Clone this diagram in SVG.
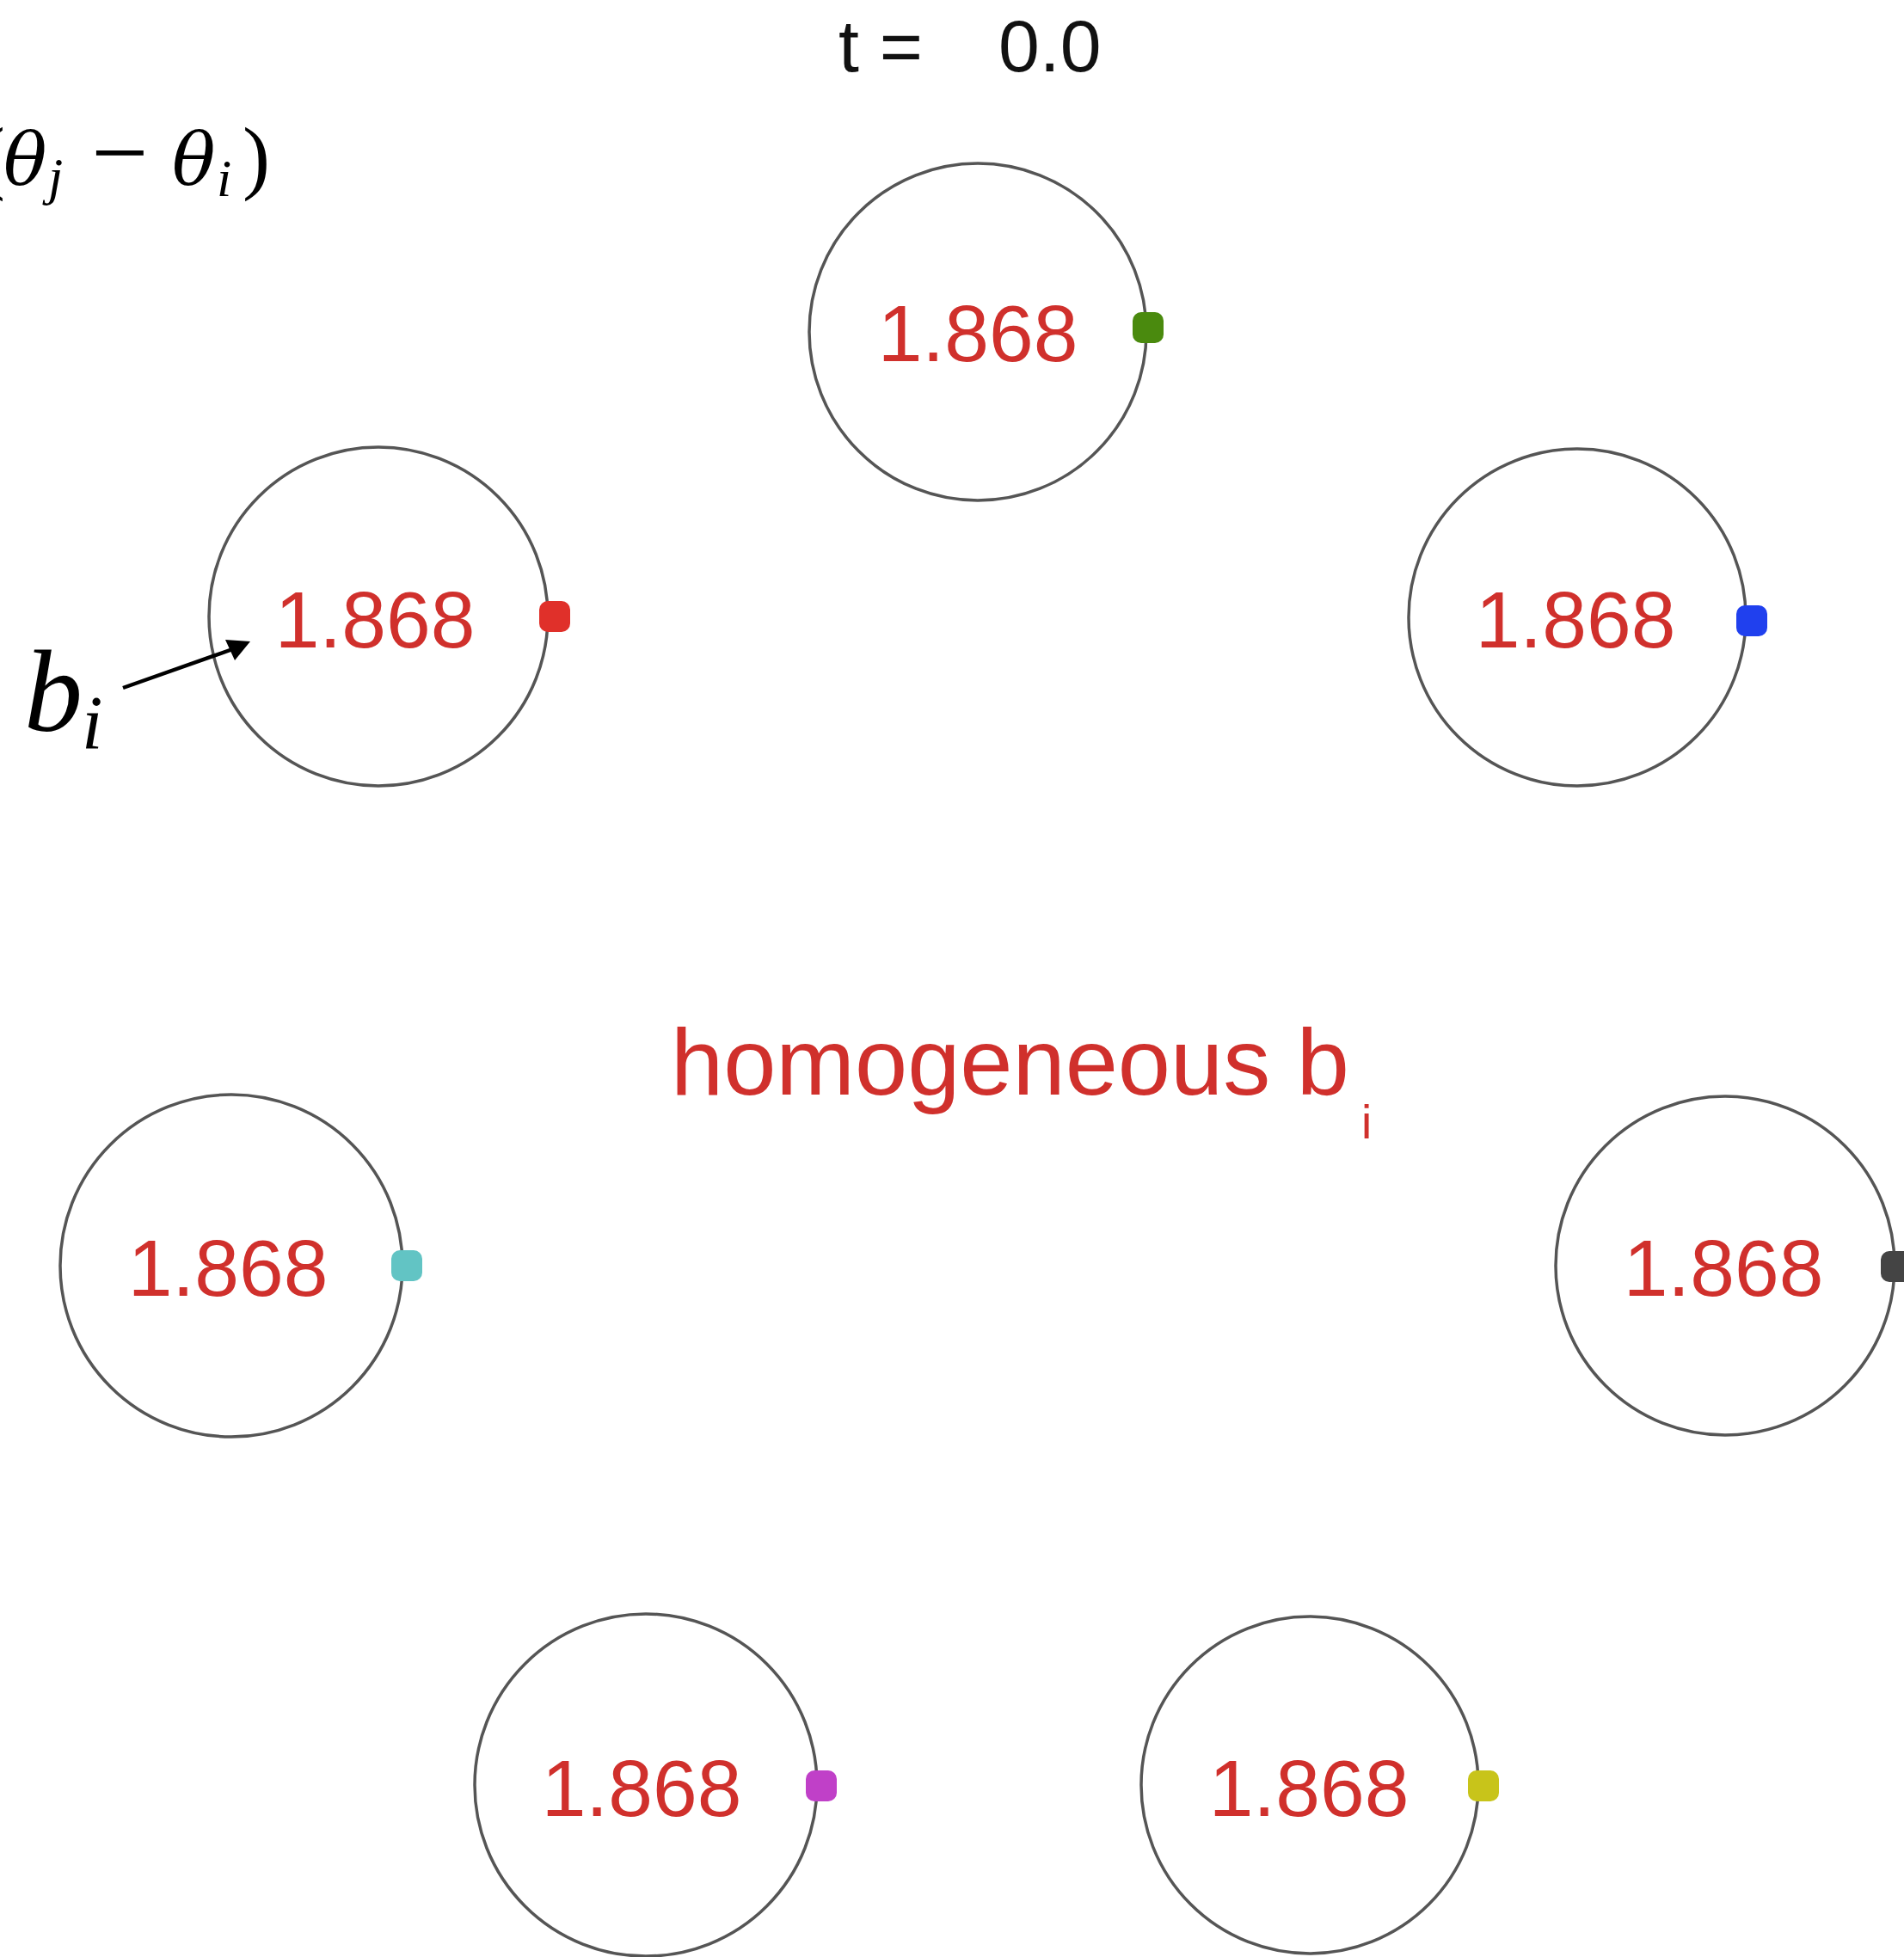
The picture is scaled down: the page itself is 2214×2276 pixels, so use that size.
<svg xmlns="http://www.w3.org/2000/svg" width="2214" height="2276" viewBox="0 0 2214 2276">
<style>
.ring{fill:none;stroke:#555;stroke-width:3.5}
.val{font-family:"Liberation Sans",Arial,sans-serif;font-size:93px;fill:#d0302c;text-anchor:middle}
.title{font-family:"Liberation Sans",Arial,sans-serif;font-size:86px;fill:#111}
.math{font-family:"Liberation Serif","Times New Roman",serif;fill:#000}
.theta{font-family:"DejaVu Serif","Liberation Serif",serif;font-style:italic}
.mi{font-style:italic}
.lbl{font-family:"Liberation Sans",Arial,sans-serif;fill:#d0302c}
</style>
<defs>
<rect id="dot" x="-18" y="-18" width="36" height="36" rx="10" ry="10"/>
</defs>
<rect width="2214" height="2276" fill="#fff"/>

<g id="title">
<text class="title" x="975" y="83">t =</text>
<text class="title" x="1161" y="83">0.0</text>
</g>

<g id="formula" class="math">
<text x="-26" y="214" font-size="96">(</text>
<text class="theta" x="4" y="214" font-size="84">θ</text>
<text class="mi" x="56" y="226" font-size="62">j</text>
<text x="106" y="217" font-size="118">−</text>
<text class="theta" x="200" y="214" font-size="84">θ</text>
<text class="mi" x="252" y="228" font-size="62">i</text>
<text x="282" y="214" font-size="96">)</text>
</g>

<g id="label-bi" class="math">
<text class="mi" x="28" y="850" font-size="136">b</text>
<text class="mi" x="95" y="870" font-size="88">i</text>
</g>

<g id="node-top">
<circle class="ring" cx="1137" cy="386" r="196"/>
<text class="val" x="1137" y="420">1.868</text>
<use href="#dot" x="1335" y="381" fill="#4a8a0e"/>
</g>

<g id="node-upper-left">
<circle class="ring" cx="440" cy="717" r="197"/>
<text class="val" x="436" y="753">1.868</text>
<use href="#dot" x="645" y="717" fill="#e0302a"/>
</g>

<g id="node-upper-right">
<circle class="ring" cx="1834" cy="718" r="196"/>
<text class="val" x="1832" y="753">1.868</text>
<use href="#dot" x="2037" y="722" fill="#2040ee"/>
</g>

<g id="node-middle-left">
<circle class="ring" cx="269" cy="1472" r="199"/>
<text class="val" x="265" y="1507">1.868</text>
<use href="#dot" x="473" y="1472" fill="#62c4c4"/>
</g>

<g id="node-middle-right">
<circle class="ring" cx="2006" cy="1472" r="197"/>
<text class="val" x="2004" y="1507">1.868</text>
<use href="#dot" x="2205" y="1473" fill="#444"/>
</g>

<g id="node-bottom-left">
<circle class="ring" cx="751" cy="2076" r="199"/>
<text class="val" x="746" y="2112">1.868</text>
<use href="#dot" x="955" y="2077" fill="#c040c8"/>
</g>

<g id="node-bottom-right">
<circle class="ring" cx="1523" cy="2076" r="196"/>
<text class="val" x="1522" y="2112">1.868</text>
<use href="#dot" x="1725" y="2077" fill="#c8c41a"/>
</g>

<g id="center-label" class="lbl">
<text x="780" y="1273" font-size="110">homogeneous b</text>
<text x="1583" y="1324" font-size="55">i</text>
</g>

<g id="connectors">
<line x1="143" y1="800" x2="276" y2="753" stroke="#000" stroke-width="4.5"/>
<polygon points="291,746 262,744 273,768" fill="#000"/>
</g>
</svg>
